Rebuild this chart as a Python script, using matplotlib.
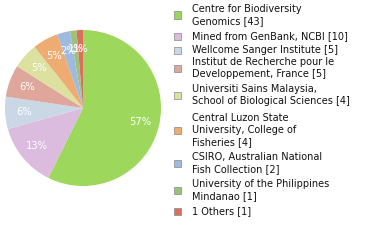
import matplotlib
matplotlib.use('Agg')
import matplotlib.pyplot as plt
from matplotlib.patches import Rectangle

# datos del grafico
etiquetas = [
    'Centre for Biodiversity\nGenomics [43]',
    'Mined from GenBank, NCBI [10]',
    'Wellcome Sanger Institute [5]',
    'Institut de Recherche pour le\nDeveloppement, France [5]',
    'Universiti Sains Malaysia,\nSchool of Biological Sciences [4]',
    'Central Luzon State\nUniversity, College of\nFisheries [4]',
    'CSIRO, Australian National\nFish Collection [2]',
    'University of the Philippines\nMindanao [1]',
    '1 Others [1]',
]
valores = [43, 10, 5, 5, 4, 4, 2, 1, 1]
colores = ['#9dd75b', '#dbbcdf', '#c9d8e4', '#dfa69b', '#dde1a0',
           '#eeab72', '#9dbbe0', '#9cc27a', '#dc6e5c']

W, H = 380, 240
fig = plt.figure(figsize=(W / 100, H / 100), dpi=100)

# pie: centro (83,108), radio 78 px
cx, cy, r = 83, 108, 78
ax = fig.add_axes([(cx - r) / W, (H - cy - r) / H, 2 * r / W, 2 * r / H])
wedges, textos, pcts = ax.pie(
    valores, colors=colores, startangle=90, counterclock=False,
    autopct=lambda p: f'{int(p)}%', pctdistance=0.76,
    wedgeprops=dict(linewidth=0),
    textprops=dict(color='white', fontsize=7.2))
ax.set_xlim(-1, 1)
ax.set_ylim(-1, 1)
ax.set_aspect('equal')

# leyenda manual
y_inicio = [9, 36, 50, 62, 89, 118, 157, 184, 211]
alto_linea = 12
for etiqueta, color, y0 in zip(etiquetas, colores, y_inicio):
    n = etiqueta.count('\n') + 1
    yc = y0 + (n - 1) * alto_linea / 2
    fig.patches.append(Rectangle(((174) / W, 1 - (yc + 3.5) / H), 7 / W, 7 / H,
                                 transform=fig.transFigure, facecolor=color,
                                 edgecolor='#888888', linewidth=0.5))
    for i, linea in enumerate(etiqueta.split('\n')):
        fig.text(192 / W, 1 - (y0 + i * alto_linea) / H, linea,
                 fontsize=7, va='center', ha='left', color='#111111')

fig.savefig('out.png', dpi=100)
